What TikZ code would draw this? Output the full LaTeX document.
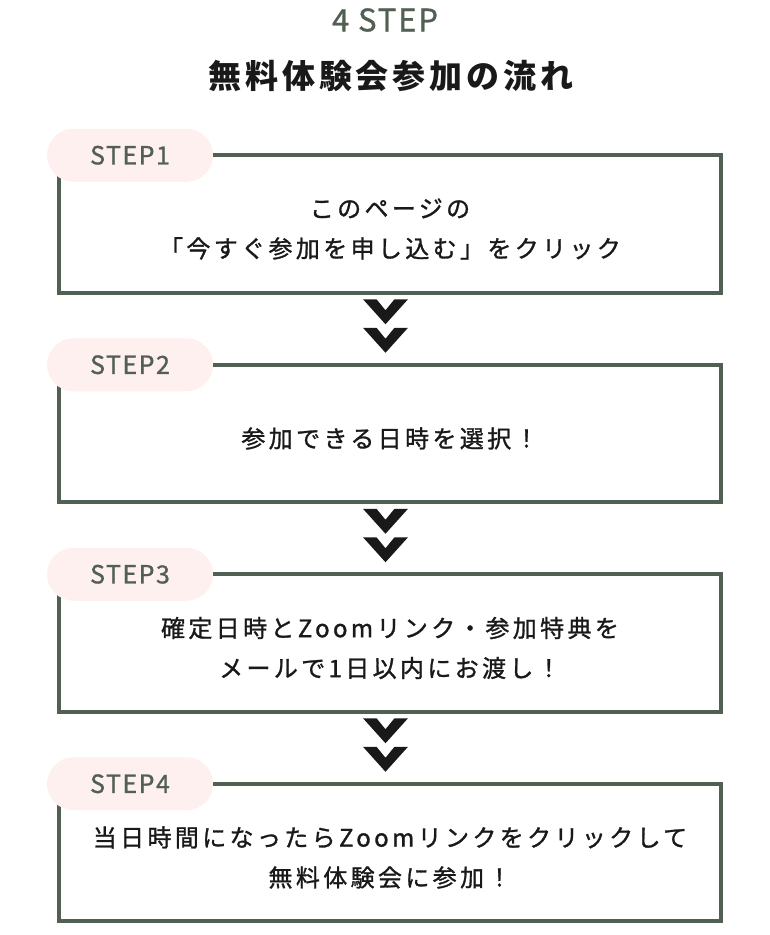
\documentclass[tikz,border=0pt]{standalone}
\usepackage{fontspec}
\setmainfont{Noto Sans CJK JP}
\newfontfamily\titlefont[LetterSpace=12]{Noto Sans CJK JP}
\newfontfamily\boxfont[LetterSpace=14,FakeBold=1.2]{Noto Sans CJK JP}
\newfontfamily\stepfont[LetterSpace=6,FakeBold=1]{Noto Sans CJK JP}
\usetikzlibrary{positioning}
\definecolor{framegreen}{RGB}{82,96,84}
\definecolor{tagpink}{RGB}{253,240,238}

\begin{document}
\begin{tikzpicture}[x=1pt,y=-1pt,node distance=72pt]
 \tikzstyle{stepbox} = [draw=framegreen,line width=4pt,outer sep=0pt,minimum width=662pt,minimum height=137.5pt,inner sep=0pt]
 \tikzstyle{boxtext} = [align=center,inner sep=0pt,text=black!90,font=\boxfont\fontsize{24}{40}\selectfont]
 \tikzstyle{steptag} = [fill=tagpink,rounded corners=26.5pt,minimum width=166pt,minimum height=53pt,inner sep=0pt,text=framegreen,font=\stepfont\fontsize{25}{25}\selectfont]
 \tikzstyle{chevron} = [fill=black!90]
 \newcommand{\tagshift}{71pt}
 \newcommand{\textdrop}{-5pt}

  \useasboundingbox (0,0) rectangle (769,935);

  % Heading
  \node[text=framegreen,font=\stepfont\fontsize{31}{31}\selectfont] (head) at (385,20) {4 STEP};
  \node[text=black!90,font=\titlefont\bfseries\fontsize{33}{33}\selectfont] (title) at (391,76) {無料体験会参加の流れ};

  % Boxes
  \node[stepbox] (box1) at (390,224) {};
  \node[stepbox,below=of box1] (box2) {};
  \node[stepbox,below=of box2] (box3) {};
  \node[stepbox,below=of box3] (box4) {};

  % Texts in the boxes
  \node[boxtext] (text1) at ([yshift=\textdrop]box1.center) {このページの\\「今すぐ参加を申し込む」をクリック};
  \node[boxtext] (text2) at ([yshift=\textdrop]box2.center) {参加できる日時を選択！};
  \node[boxtext] (text3) at ([yshift=\textdrop]box3.center) {確定日時とZoomリンク・参加特典を\\メールで1日以内にお渡し！};
  \node[boxtext] (text4) at ([yshift=\textdrop]box4.center) {当日時間になったらZoomリンクをクリックして\\無料体験会に参加！};

  % Tags over the top left corners
  \foreach \i in {1,...,4}
    \node[steptag] (tag\i) at ([xshift=\tagshift]box\i.north west) {STEP\i};

  % Double chevrons between the boxes
  \foreach \a in {1,2,3}{
    \fill[chevron] ([xshift=-4.5pt]box\a.south) ++(-22.5,6.5) -- ++(13.5,0) -- ++(9,11) -- ++(9,-11) -- ++(13.5,0) -- ++(-22.5,25) -- cycle;
    \fill[chevron] ([xshift=-4.5pt]box\a.south) ++(-22.5,35) -- ++(13.5,0) -- ++(9,11) -- ++(9,-11) -- ++(13.5,0) -- ++(-22.5,25) -- cycle;
  }

\end{tikzpicture}
\end{document}
